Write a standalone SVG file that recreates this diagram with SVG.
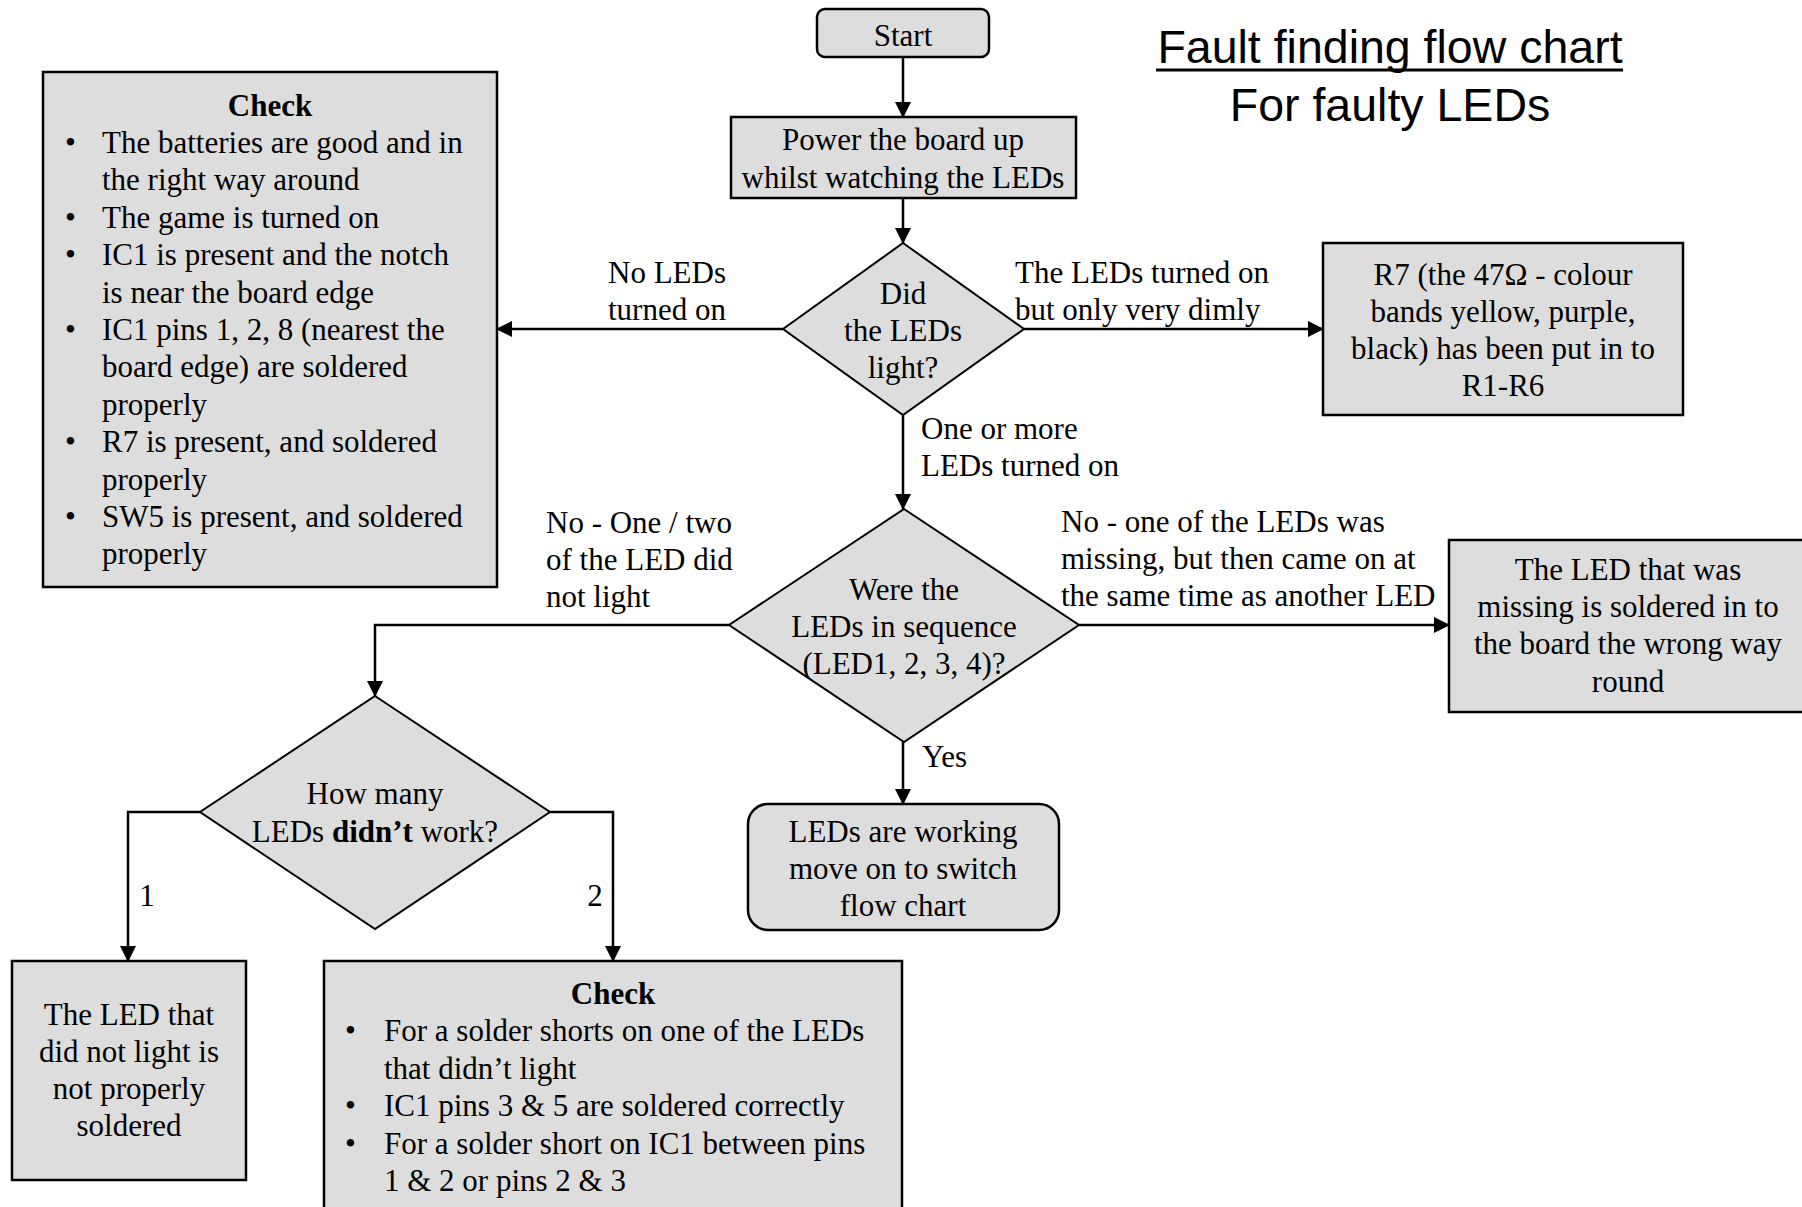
<svg xmlns="http://www.w3.org/2000/svg" width="1802" height="1207" viewBox="0 0 1802 1207">
<style>
.box{fill:#dddddd;stroke:#000;stroke-width:2.5}
.dia{fill:#dddddd;stroke:#000;stroke-width:2}
.t{font-family:"Liberation Serif","Times New Roman",serif;font-size:31px;fill:#000}
.c{text-anchor:middle}
.b{font-weight:bold}
.title{font-family:"Liberation Sans",Arial,sans-serif;font-size:46.5px;fill:#000;text-anchor:middle}
.conn{fill:none;stroke:#000;stroke-width:2.5}
</style>
<defs>
<marker id="arr" markerUnits="userSpaceOnUse" markerWidth="16" markerHeight="16" refX="15" refY="8" orient="auto">
<path d="M0,0 L16,8 L0,16 Z" fill="#000"/>
</marker>
</defs>
<rect width="1802" height="1207" fill="#fff"/>

<g id="title">
<text class="title" x="1390" y="63">Fault finding flow chart</text>
<rect x="1156" y="68.5" width="467" height="3" fill="#000"/>
<text class="title" x="1390" y="121">For faulty LEDs</text>
</g>

<g id="connectors">
<path class="conn" d="M903,57 L903,117" marker-end="url(#arr)"/>
<path class="conn" d="M903,198 L903,243" marker-end="url(#arr)"/>
<path class="conn" d="M783,329 L497,329" marker-end="url(#arr)"/>
<path class="conn" d="M1024,329 L1323,329" marker-end="url(#arr)"/>
<path class="conn" d="M903,415 L903,509" marker-end="url(#arr)"/>
<path class="conn" d="M1079,625 L1449,625" marker-end="url(#arr)"/>
<path class="conn" d="M729,625 L375,625 L375,696" marker-end="url(#arr)"/>
<path class="conn" d="M903,742 L903,804" marker-end="url(#arr)"/>
<path class="conn" d="M200,812 L128,812 L128,961" marker-end="url(#arr)"/>
<path class="conn" d="M550,812 L613,812 L613,961" marker-end="url(#arr)"/>
<text class="t" x="608" y="283">No LEDs</text>
<text class="t" x="608" y="320">turned on</text>
<text class="t" x="1015" y="283">The LEDs turned on</text>
<text class="t" x="1015" y="320">but only very dimly</text>
<text class="t" x="921" y="439">One or more</text>
<text class="t" x="921" y="476">LEDs turned on</text>
<text class="t" x="546" y="533">No - One / two</text>
<text class="t" x="546" y="570">of the LED did</text>
<text class="t" x="546" y="607">not light</text>
<text class="t" x="1061" y="532">No - one of the LEDs was</text>
<text class="t" x="1061" y="569">missing, but then came on at</text>
<text class="t" x="1061" y="606">the same time as another LED</text>
<text class="t" x="922" y="767">Yes</text>
<text class="t c" x="147" y="906">1</text>
<text class="t c" x="595" y="906">2</text>
</g>

<g id="start">
<rect class="box" x="817" y="9" width="172" height="48" rx="8"/>
<text class="t c" x="903" y="46">Start</text>
</g>

<g id="power">
<rect class="box" x="731" y="117" width="345" height="81"/>
<text class="t c" x="903" y="150">Power the board up</text>
<text class="t c" x="903" y="188">whilst watching the LEDs</text>
</g>

<g id="did-light">
<polygon class="dia" points="903,243 1024,329 903,415 783,329"/>
<text class="t c" x="903" y="304">Did</text>
<text class="t c" x="903" y="341">the LEDs</text>
<text class="t c" x="903" y="378">light?</text>
</g>

<g id="check-power">
<rect class="box" x="43" y="72" width="454" height="515"/>
<text class="t c b" x="270" y="115.5">Check</text>
<g class="t">
<text x="65" y="153">•</text><text x="102" y="153">The batteries are good and in</text>
<text x="102" y="190.4">the right way around</text>
<text x="65" y="227.8">•</text><text x="102" y="227.8">The game is turned on</text>
<text x="65" y="265.2">•</text><text x="102" y="265.2">IC1 is present and the notch</text>
<text x="102" y="302.6">is near the board edge</text>
<text x="65" y="340">•</text><text x="102" y="340">IC1 pins 1, 2, 8 (nearest the</text>
<text x="102" y="377.4">board edge) are soldered</text>
<text x="102" y="414.8">properly</text>
<text x="65" y="452.2">•</text><text x="102" y="452.2">R7 is present, and soldered</text>
<text x="102" y="489.6">properly</text>
<text x="65" y="527">•</text><text x="102" y="527">SW5 is present, and soldered</text>
<text x="102" y="564.4">properly</text>
</g>
</g>

<g id="r7">
<rect class="box" x="1323" y="243" width="360" height="172"/>
<text class="t c" x="1503" y="285">R7 (the 47Ω - colour</text>
<text class="t c" x="1503" y="322">bands yellow, purple,</text>
<text class="t c" x="1503" y="359">black) has been put in to</text>
<text class="t c" x="1503" y="396">R1-R6</text>
</g>

<g id="sequence">
<polygon class="dia" points="904,509 1079,625 904,742 729,625"/>
<text class="t c" x="904" y="600">Were the</text>
<text class="t c" x="904" y="637">LEDs in sequence</text>
<text class="t c" x="904" y="674">(LED1, 2, 3, 4)?</text>
</g>

<g id="wrong-way">
<rect class="box" x="1449" y="540" width="358" height="172"/>
<text class="t c" x="1628" y="580">The LED that was</text>
<text class="t c" x="1628" y="617">missing is soldered in to</text>
<text class="t c" x="1628" y="654">the board the wrong way</text>
<text class="t c" x="1628" y="692">round</text>
</g>

<g id="working">
<rect class="box" x="748" y="804" width="311" height="126" rx="20"/>
<text class="t c" x="903" y="842">LEDs are working</text>
<text class="t c" x="903" y="879">move on to switch</text>
<text class="t c" x="903" y="916">flow chart</text>
</g>

<g id="how-many">
<polygon class="dia" points="375,696 550,812 375,929 200,812"/>
<text class="t c" x="375" y="804">How many</text>
<text class="t c" x="375" y="842">LEDs <tspan class="b">didn’t</tspan> work?</text>
</g>

<g id="one-led">
<rect class="box" x="12" y="961" width="234" height="219"/>
<text class="t c" x="129" y="1025">The LED that</text>
<text class="t c" x="129" y="1062">did not light is</text>
<text class="t c" x="129" y="1099">not properly</text>
<text class="t c" x="129" y="1136">soldered</text>
</g>

<g id="check-two">
<rect class="box" x="324" y="961" width="578" height="260"/>
<text class="t c b" x="613" y="1004">Check</text>
<g class="t">
<text x="345" y="1041.4">•</text><text x="384" y="1041.4">For a solder shorts on one of the LEDs</text>
<text x="384" y="1078.8">that didn’t light</text>
<text x="345" y="1116.2">•</text><text x="384" y="1116.2">IC1 pins 3 &amp; 5 are soldered correctly</text>
<text x="345" y="1153.6">•</text><text x="384" y="1153.6">For a solder short on IC1 between pins</text>
<text x="384" y="1191">1 &amp; 2 or pins 2 &amp; 3</text>
</g>
</g>
</svg>
